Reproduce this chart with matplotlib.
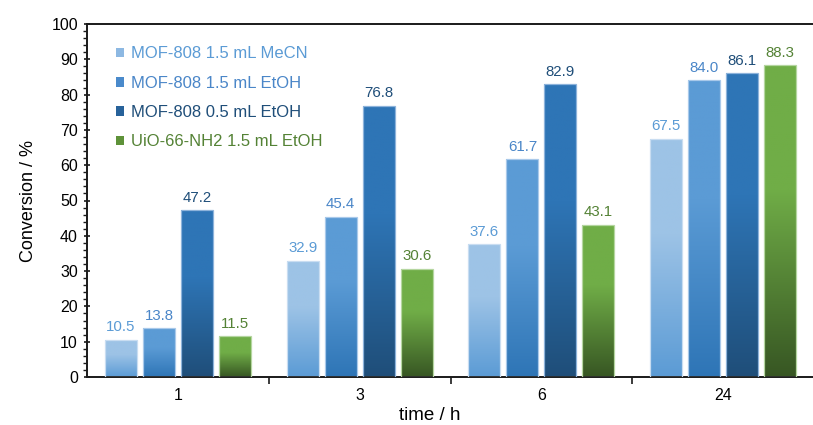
import numpy as np
import matplotlib
matplotlib.use("Agg")
import matplotlib.pyplot as plt
from matplotlib.colors import LinearSegmentedColormap, to_rgb
from matplotlib.patches import Rectangle
from matplotlib.ticker import MultipleLocator, FixedLocator

plt.rcParams['font.family'] = ['Liberation Sans', 'DejaVu Sans']

times = ["1", "3", "6", "24"]
series_names = ["MOF-808 1.5 mL MeCN", "MOF-808 1.5 mL EtOH",
                "MOF-808 0.5 mL EtOH", "UiO-66-NH2 1.5 mL EtOH"]
mecn_15 = [10.5, 32.9, 37.6, 67.5]
etoh_15 = [13.8, 45.4, 61.7, 84.0]
etoh_05 = [47.2, 76.8, 82.9, 86.1]
uio_etoh = [11.5, 30.6, 43.1, 88.3]
values = [mecn_15, etoh_15, etoh_05, uio_etoh]

top_colors = ["#9DC3E6", "#5B9BD5", "#2E75B6", "#70AD47"]
bottom_colors = ["#5B9BD5", "#2E75B6", "#1F4E79", "#375623"]
edge_colors = ["#C9DDF1", "#A9C9EA", "#8DB3DB", "#B5D6A0"]
text_colors = ["#5B9BD5", "#4A86C8", "#1F4E79", "#548235"]

fig = plt.figure(figsize=(8.13, 4.25), dpi=100)
ax = fig.add_axes([87 / 813, 48 / 425, 727 / 813, 353 / 425])

n = len(times)
x = np.arange(n)
width = 0.176
pitch = 0.209
offsets = (np.arange(4) - 1.5) * pitch


def gradient_cmap(top, bottom):
    t = to_rgb(top)
    b = to_rgb(bottom)
    # bottom -> top; colour holds at the top before darkening downwards
    return LinearSegmentedColormap.from_list(
        "g", [(0.0, b), (0.6, t), (1.0, t)])


grad = np.linspace(0, 1, 256).reshape(-1, 1)

for k, (vals, tc, bc, ec, txc) in enumerate(
        zip(values, top_colors, bottom_colors, edge_colors, text_colors)):
    cmap = gradient_cmap(tc, bc)
    bars = ax.bar(x + offsets[k], vals, width, color="none",
                  edgecolor=ec, linewidth=0.9, zorder=3)
    for rect, v in zip(bars, vals):
        x0 = rect.get_x()
        x1 = x0 + rect.get_width()
        im = ax.imshow(grad, cmap=cmap, origin="lower", aspect="auto",
                       extent=[x0, x1, 0, v], zorder=2, interpolation="bilinear")
        im.set_clip_path(rect)
        ax.annotate(f"{v:.1f}", (x0 + rect.get_width() / 2, v),
                    xytext=(0, 4), textcoords="offset points",
                    ha="center", va="bottom", fontsize=10.8, color=txc,
                    zorder=4)

ax.set_xlim(-0.5, n - 0.5)
ax.set_ylim(0, 100)

ax.set_xticks(x)
ax.set_xticklabels(times, fontsize=11.5)
ax.xaxis.set_minor_locator(FixedLocator(np.arange(0.5, n - 0.5, 1.0)))
ax.tick_params(axis="x", which="major", length=0, pad=8)
ax.tick_params(axis="x", which="minor", length=5, width=1.2, direction="out",
               color="#1a1a1a")

ax.yaxis.set_major_locator(MultipleLocator(10))
ax.yaxis.set_minor_locator(MultipleLocator(2))
ax.tick_params(axis="y", which="major", length=5, width=1.2,
               direction="inout", labelsize=11.5, color="#1a1a1a", pad=4)
ax.tick_params(axis="y", which="minor", length=3, width=1.0,
               direction="out", color="#1a1a1a")

for side in ["left", "bottom", "top"]:
    ax.spines[side].set_linewidth(1.4)
    ax.spines[side].set_color("#1a1a1a")
ax.spines["right"].set_visible(False)

ax.set_ylabel("Conversion / %", fontsize=13, labelpad=10)
ax.set_xlabel("time / h", fontsize=13.5)
ax.xaxis.set_label_coords(0.472, -0.085)

handles = [Rectangle((0, 0), 1, 1, facecolor=c, edgecolor="none")
           for c in ["#8DB8E2", "#4A8ACB", "#27629A", "#5E9239"]]
leg = ax.legend(handles, series_names, loc="upper left",
                bbox_to_anchor=(0.026, 0.965), frameon=False, fontsize=12,
                handlelength=0.5, handleheight=0.5, handletextpad=0.4,
                labelspacing=0.86, borderaxespad=0.2)
for txt, c in zip(leg.get_texts(), text_colors):
    txt.set_color(c)

fig.savefig("out.png", dpi=100)
